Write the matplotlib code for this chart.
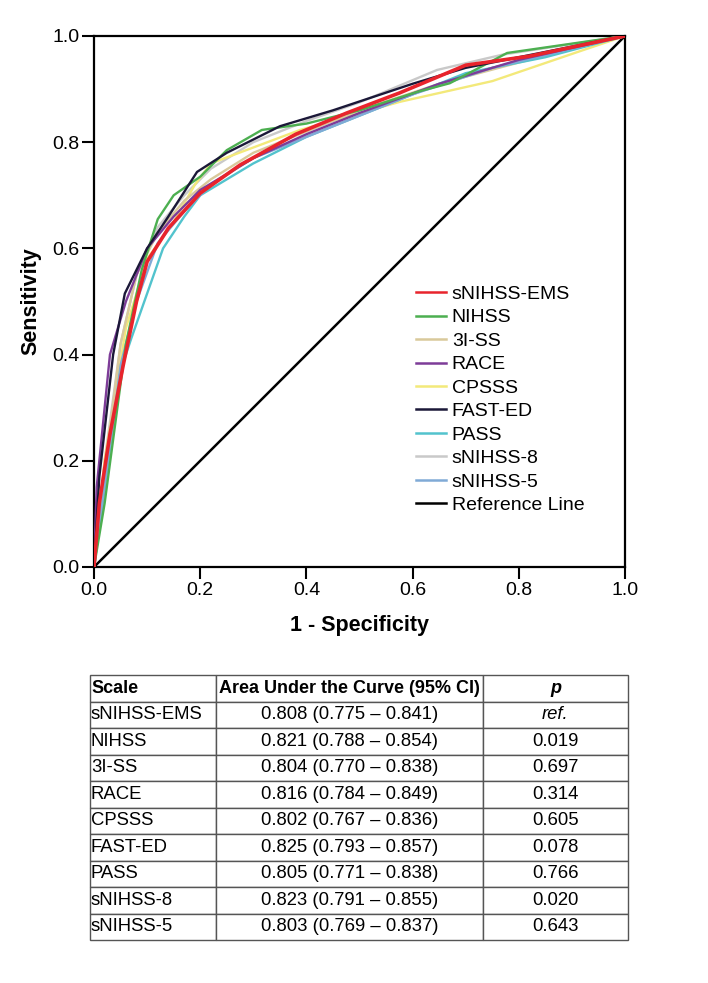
import matplotlib
matplotlib.use("Agg")
import matplotlib.pyplot as plt

plt.rcParams["font.family"] = ["Liberation Sans", "DejaVu Sans"]

# ROC curves (1 - specificity, sensitivity)
scales = ["sNIHSS-EMS", "NIHSS", "3I-SS", "RACE", "CPSSS", "FAST-ED", "PASS", "sNIHSS-8", "sNIHSS-5"]
colors = ["#e8242c", "#4caf50", "#d9c99b", "#7d3c98", "#f3e97a", "#1b1838", "#52c3cd", "#c9c9c9", "#80aad6"]

ems_x = [0, 0.01, 0.03, 0.055, 0.08, 0.10, 0.14, 0.20, 0.275, 0.38, 0.476, 0.576, 0.70, 0.82, 1.0]
ems_y = [0, 0.12, 0.25, 0.38, 0.50, 0.575, 0.638, 0.704, 0.757, 0.815, 0.855, 0.893, 0.945, 0.962, 1.0]
nihss_x = [0, 0.02, 0.06, 0.09, 0.12, 0.15, 0.20, 0.25, 0.316, 0.40, 0.50, 0.61, 0.67, 0.778, 1.0]
nihss_y = [0, 0.12, 0.42, 0.56, 0.655, 0.70, 0.735, 0.785, 0.823, 0.835, 0.86, 0.895, 0.911, 0.968, 1.0]
iss_x = [0, 0.02, 0.05, 0.08, 0.12, 0.17, 0.22, 0.30, 0.40, 0.50, 0.65, 0.80, 1.0]
iss_y = [0, 0.18, 0.42, 0.55, 0.63, 0.69, 0.73, 0.78, 0.82, 0.86, 0.91, 0.95, 1.0]
race_x = [0, 0.005, 0.03, 0.06, 0.10, 0.15, 0.20, 0.30, 0.40, 0.50, 0.65, 0.80, 1.0]
race_y = [0, 0.15, 0.40, 0.50, 0.60, 0.66, 0.71, 0.77, 0.815, 0.855, 0.91, 0.955, 1.0]
cpsss_x = [0, 0.02, 0.06, 0.10, 0.15, 0.19, 0.22, 0.30, 0.388, 0.576, 0.75, 0.92, 1.0]
cpsss_y = [0, 0.20, 0.45, 0.58, 0.65, 0.72, 0.76, 0.79, 0.823, 0.876, 0.915, 0.973, 1.0]
fasted_x = [0, 0.01, 0.036, 0.058, 0.10, 0.14, 0.194, 0.25, 0.35, 0.45, 0.60, 0.70, 0.85, 1.0]
fasted_y = [0, 0.17, 0.40, 0.515, 0.60, 0.66, 0.744, 0.78, 0.83, 0.86, 0.91, 0.94, 0.97, 1.0]
pass_x = [0, 0.02, 0.05, 0.07, 0.13, 0.17, 0.20, 0.30, 0.40, 0.50, 0.60, 0.70, 0.85, 1.0]
pass_y = [0, 0.15, 0.37, 0.43, 0.60, 0.66, 0.70, 0.76, 0.81, 0.85, 0.89, 0.93, 0.96, 1.0]
s8_x = [0, 0.02, 0.05, 0.08, 0.12, 0.17, 0.22, 0.30, 0.40, 0.50, 0.646, 0.77, 1.0]
s8_y = [0, 0.20, 0.42, 0.55, 0.64, 0.70, 0.75, 0.80, 0.84, 0.875, 0.936, 0.965, 1.0]
s5_x = [0, 0.02, 0.05, 0.08, 0.12, 0.17, 0.22, 0.30, 0.40, 0.50, 0.60, 0.75, 1.0]
s5_y = [0, 0.15, 0.38, 0.50, 0.61, 0.67, 0.72, 0.77, 0.81, 0.85, 0.89, 0.94, 1.0]

curves_x = [ems_x, nihss_x, iss_x, race_x, cpsss_x, fasted_x, pass_x, s8_x, s5_x]
curves_y = [ems_y, nihss_y, iss_y, race_y, cpsss_y, fasted_y, pass_y, s8_y, s5_y]

# table values
auc_text = ["0.808 (0.775 \u2013 0.841)", "0.821 (0.788 \u2013 0.854)", "0.804 (0.770 \u2013 0.838)",
            "0.816 (0.784 \u2013 0.849)", "0.802 (0.767 \u2013 0.836)", "0.825 (0.793 \u2013 0.857)",
            "0.805 (0.771 \u2013 0.838)", "0.823 (0.791 \u2013 0.855)", "0.803 (0.769 \u2013 0.837)"]
p_text = ["ref.", "0.019", "0.697", "0.314", "0.605", "0.078", "0.766", "0.020", "0.643"]

fig = plt.figure(figsize=(7.08, 9.83), dpi=100, facecolor="white")
ax = fig.add_axes([0.1328, 0.4232, 0.75, 0.5402])

# draw back to front so the red curve sits on top
order = [7, 4, 2, 6, 8, 3, 1, 5, 0]
handles = {}
for i in order:
    lw = 2.6 if i == 0 else 1.7
    (h,) = ax.plot(curves_x[i], curves_y[i], color=colors[i], lw=lw, label=scales[i],
                   zorder=3 + (2 if i == 0 else 0))
    handles[i] = h
(ref,) = ax.plot([0, 1], [0, 1], color="black", lw=1.8, label="Reference Line", zorder=2)

leg_handles = [handles[i] for i in range(len(scales))] + [ref]
leg = ax.legend(leg_handles, scales + ["Reference Line"], loc="upper left",
                bbox_to_anchor=(0.592, 0.545), frameon=False, fontsize=14,
                handlelength=1.55, handletextpad=0.28, labelspacing=0.3, borderaxespad=0)
for ln in leg.get_lines():
    ln.set_linewidth(1.8)

ax.set_xlim(0, 1)
ax.set_ylim(0, 1)
ticks = [0.0, 0.2, 0.4, 0.6, 0.8, 1.0]
ax.set_xticks(ticks)
ax.set_yticks(ticks)
ax.set_xticklabels([f"{t:.1f}" for t in ticks], fontsize=14)
ax.set_yticklabels([f"{t:.1f}" for t in ticks], fontsize=14)
ax.tick_params(direction="out", length=8.5, width=1.5, pad=2)
for s in ax.spines.values():
    s.set_linewidth(1.6)
ax.set_xlabel("1 - Specificity", fontsize=15.5, fontweight="bold", labelpad=12)
ax.set_ylabel("Sensitivity", fontsize=15.5, fontweight="bold", labelpad=8)

# AUC table
tax = fig.add_axes([0.1271, 0.0437, 0.760, 0.2696])
tax.axis("off")
cells = [["Scale", "Area Under the Curve (95% CI)", "p"]]
for s, a, p in zip(scales, auc_text, p_text):
    cells.append([s, a, p])
tbl = tax.table(cellText=cells, bbox=[0, 0, 1, 1], colWidths=[0.234, 0.496, 0.270])
tbl.auto_set_font_size(False)
for (r, c), cell in tbl.get_celld().items():
    cell.set_edgecolor("#555555")
    cell.set_linewidth(1.0)
    txt = cell.get_text()
    txt.set_fontsize(13 if r == 0 else 13.3)
    if c == 0:
        cell.set_text_props(ha="left")
        cell.PAD = 0.008
    else:
        cell.set_text_props(ha="center")
    if r == 0:
        txt.set_fontweight("bold")
        if c == 2:
            txt.set_fontstyle("italic")
    elif c == 2 and txt.get_text() == "ref.":
        txt.set_fontstyle("italic")

fig.savefig("out.png", dpi=100, facecolor="white")
